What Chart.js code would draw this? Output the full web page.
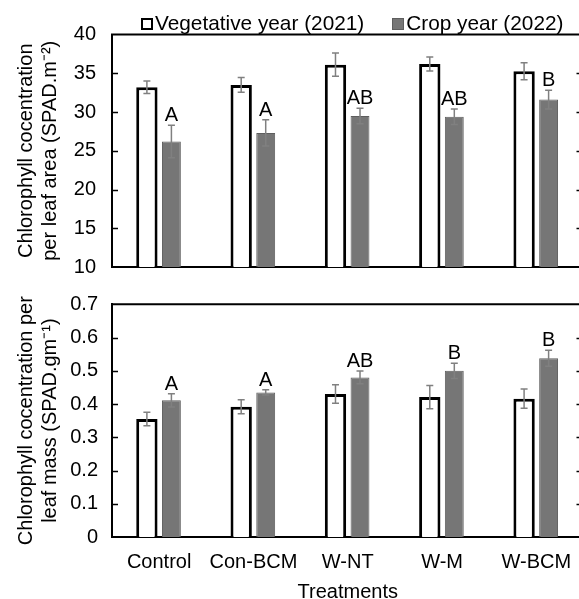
<!DOCTYPE html>
<html>
<head>
<meta charset="utf-8">
<script src="https://cdn.jsdelivr.net/npm/chart.js@4/dist/chart.umd.min.js"></script>
<style>
    body{margin:0;background:#fff;}
    #wrap{position:relative;width:579px;height:599px;overflow:hidden;font-family:"Liberation Sans",Arial,sans-serif;}
    #areaChart{position:absolute;left:0;top:0;}
    #massChart{position:absolute;left:0;top:280px;}
    .legend{position:absolute;left:141px;top:11px;display:flex;font-size:20.8px;line-height:24px;color:#000;white-space:nowrap;}
    .legend .item{display:flex;align-items:flex-start;}
    .legend .item + .item{margin-left:28px;}
    .legend .box{width:12px;height:12px;box-sizing:border-box;margin:7px 2px 0 0;}
    .box.veg{background:#fff;border:2px solid #000;}
    .box.crop{background:#767676;border:1px solid #5e5e5e;}
</style>
</head>
<body>
<div id="wrap">
    <canvas id="areaChart" width="586" height="280"></canvas>
    <canvas id="massChart" width="586" height="328"></canvas>
    <div class="legend">
        <div class="item"><div class="box veg"></div>Vegetative year (2021)</div>
        <div class="item"><div class="box crop"></div>Crop year (2022)</div>
    </div>
</div>
<script>
const treatments = ['Control', 'Con-BCM', 'W-NT', 'W-M', 'W-BCM'];

// SPAD per leaf area
const areaVeg = [33.2, 33.5, 36.1, 36.2, 35.25];
const areaVegErr = [0.8, 0.95, 1.5, 0.9, 1.1];
const areaCrop = [26.2, 27.3, 29.5, 29.4, 31.6];
const areaCropErr = [2.1, 1.7, 1.0, 1.0, 1.2];
const areaLetters = ['A', 'A', 'AB', 'AB', 'B'];

// SPAD per leaf mass
const massVeg = [0.355, 0.392, 0.430, 0.421, 0.416];
const massVegErr = [0.02, 0.021, 0.028, 0.035, 0.029];
const massCrop = [0.411, 0.435, 0.480, 0.500, 0.538];
const massCropErr = [0.02, 0.008, 0.019, 0.023, 0.024];
const massLetters = ['A', 'A', 'AB', 'B', 'B'];

const FONT = '"Liberation Sans", Arial, sans-serif';

// error bars, significance letters, top frame line and inner tick marks
const panelExtras = {
    id: 'panelExtras',
    afterDatasetsDraw(chart, args, opts){
        let ctx = chart.ctx;
        let y = chart.scales.y;
        ctx.save();
        ctx.strokeStyle = '#808080';
        ctx.lineWidth = 1.5;
        chart.data.datasets.forEach((ds, di) => {
            chart.getDatasetMeta(di).data.forEach((bar, i) => {
                let hi = y.getPixelForValue(ds.data[i] + ds.errors[i]);
                let lo = y.getPixelForValue(ds.data[i] - ds.errors[i]);
                ctx.beginPath();
                ctx.moveTo(bar.x, hi); ctx.lineTo(bar.x, lo);
                ctx.moveTo(bar.x - 3.5, hi); ctx.lineTo(bar.x + 3.5, hi);
                ctx.moveTo(bar.x - 3.5, lo); ctx.lineTo(bar.x + 3.5, lo);
                ctx.stroke();
            });
        });
        // letters above the crop year bars
        let crop = chart.data.datasets[1];
        ctx.fillStyle = '#000';
        ctx.font = '20px ' + FONT;
        ctx.textAlign = 'center';
        ctx.textBaseline = 'alphabetic';
        chart.getDatasetMeta(1).data.forEach((bar, i) => {
            let top = y.getPixelForValue(crop.data[i] + crop.errors[i]);
            ctx.fillText(opts.letters[i], bar.x, top - 4);
        });
        ctx.restore();
    },
    afterDraw(chart){
        let ctx = chart.ctx;
        let area = chart.chartArea;
        let y = chart.scales.y;
        ctx.save();
        ctx.strokeStyle = '#000';
        ctx.lineWidth = 2;
        ctx.beginPath();
        ctx.moveTo(area.left - 1, area.top);
        ctx.lineTo(area.right, area.top);
        ctx.stroke();
        ctx.lineWidth = 1.5;
        y.ticks.forEach(t => {
            if (t.value <= y.min || t.value >= y.max) return;
            let py = Math.round(y.getPixelForValue(t.value)) + 0.5;
            ctx.beginPath();
            ctx.moveTo(area.left, py); ctx.lineTo(area.left + 6, py);
            ctx.moveTo(area.right - 7, py); ctx.lineTo(area.right, py);
            ctx.stroke();
        });
        ctx.restore();
    }
};

function makeDatasets(veg, vegErr, crop, cropErr){
    return [{
        label: 'Vegetative year (2021)',
        data: veg,
        errors: vegErr,
        backgroundColor: '#ffffff',
        borderColor: '#000000',
        borderWidth: 3,
        barPercentage: 0.87,
        categoryPercentage: 0.52
    }, {
        label: 'Crop year (2022)',
        data: crop,
        errors: cropErr,
        backgroundColor: '#767676',
        borderColor: '#5e5e5e',
        borderWidth: 1,
        barPercentage: 0.77,
        categoryPercentage: 0.52
    }];
}

// tick gap comes from tickLength (grid hidden) so it does not pad the chart area
function yAxis(min, max, step, title, gap, fmt){
    return {
        min: min,
        max: max,
        ticks: {stepSize: step, color: '#000', font: {family: FONT, size: 20}, padding: 0, callback: fmt},
        grid: {display: false, drawTicks: true, tickLength: gap},
        border: {display: true, color: '#000', width: 2},
        title: {display: true, text: title, color: '#000', font: {family: FONT, size: 20}, padding: {top: 14.5, bottom: 0}},
        afterFit: s => { s.width = 112; }
    };
}

new Chart(document.getElementById('areaChart'), {
    type: 'bar',
    data: {labels: treatments, datasets: makeDatasets(areaVeg, areaVegErr, areaCrop, areaCropErr)},
    options: {
        responsive: false,
        animation: false,
        layout: {padding: {top: 34.5, right: 2.5, bottom: 0, left: 0}},
        plugins: {legend: {display: false}, tooltip: {enabled: false}, panelExtras: {letters: areaLetters}},
        scales: {
            x: {
                ticks: {display: false},
                grid: {display: false, drawTicks: false, tickLength: 0},
                border: {display: true, color: '#000', width: 2},
                afterFit: s => { s.height = 13; }
            },
            y: yAxis(10, 40, 5, ['Chlorophyll cocentration', 'per leaf area (SPAD.m\u207B\u00B2)'], 16, v => v)
        }
    },
    plugins: [panelExtras]
});

new Chart(document.getElementById('massChart'), {
    type: 'bar',
    data: {labels: treatments, datasets: makeDatasets(massVeg, massVegErr, massCrop, massCropErr)},
    options: {
        responsive: false,
        animation: false,
        layout: {padding: {top: 24.3, right: 2.5, bottom: 0, left: 0}},
        plugins: {legend: {display: false}, tooltip: {enabled: false}, panelExtras: {letters: massLetters}},
        scales: {
            x: {
                ticks: {color: '#000', font: {family: FONT, size: 20}, padding: 13, maxRotation: 0},
                grid: {display: false, drawTicks: false, tickLength: 0},
                border: {display: true, color: '#000', width: 2},
                title: {display: true, text: 'Treatments', color: '#000', font: {family: FONT, size: 20}, padding: {top: 4, bottom: 4}},
                afterFit: s => { s.height = 71; }
            },
            y: yAxis(0, 0.7, 0.1, ['Chlorophyll cocentration per', 'leaf mass (SPAD.gm\u207B\u00B9)'], 14,
                v => v === 0 ? '0' : Number(v).toFixed(1))
        }
    },
    plugins: [panelExtras]
});
</script>
</body>
</html>
